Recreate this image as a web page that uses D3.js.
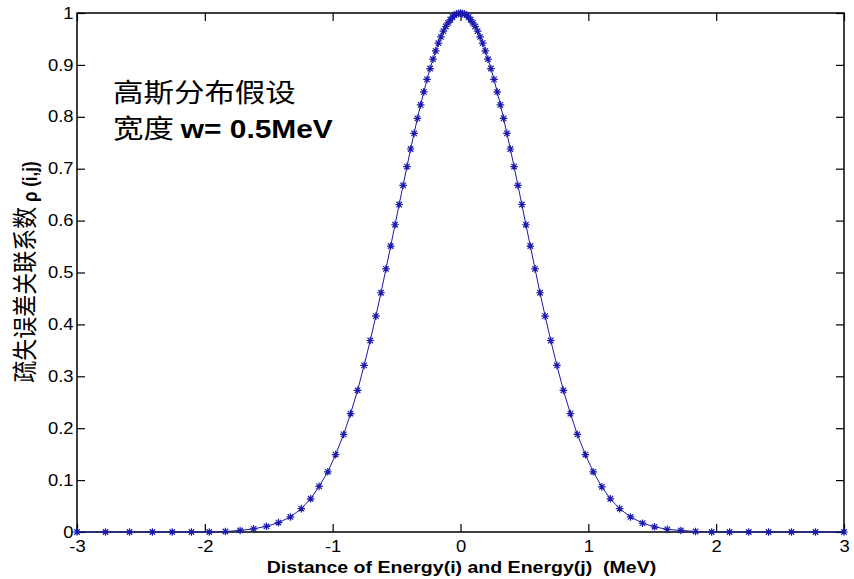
<!DOCTYPE html>
<html>
<head>
<meta charset="utf-8">
<script src="https://cdn.jsdelivr.net/npm/d3@7"></script>
<style>
  html, body { margin: 0; padding: 0; background: #ffffff; }
  svg { display: block; }
</style>
</head>
<body>
<svg id="chart" width="854" height="579"></svg>
<script>
// Tick values on both axes
const tickX = [-3, -2, -1, 0, 1, 2, 3];
const tickY = [0, 0.1, 0.2, 0.3, 0.4, 0.5, 0.6, 0.7, 0.8, 0.9, 1];
const tickYLabels = ["0", "0.1", "0.2", "0.3", "0.4", "0.5", "0.6", "0.7", "0.8", "0.9", "1"];

// Energy distance (MeV)
const distance = [
  -3.000, -2.777, -2.589, -2.410, -2.255, -2.105, -1.965, -1.839, -1.724, -1.618,
  -1.518, -1.424, -1.330, -1.245, -1.172, -1.106, -1.038, -0.977, -0.914, -0.860,
  -0.805, -0.754, -0.706, -0.662, -0.622, -0.583, -0.546, -0.512, -0.480, -0.449,
  -0.419, -0.390, -0.363, -0.337, -0.312, -0.287, -0.262, -0.238, -0.215, -0.194,
  -0.173, -0.153, -0.134, -0.115, -0.097, -0.080, -0.063, -0.047, -0.031, -0.015,
  0.000,
  0.015, 0.031, 0.047, 0.063, 0.080, 0.097, 0.115, 0.134, 0.153, 0.173,
  0.194, 0.215, 0.238, 0.262, 0.287, 0.312, 0.337, 0.363, 0.390, 0.419,
  0.449, 0.480, 0.512, 0.546, 0.583, 0.622, 0.662, 0.706, 0.754, 0.805,
  0.860, 0.914, 0.977, 1.038, 1.106, 1.172, 1.245, 1.330, 1.424, 1.518,
  1.618, 1.724, 1.839, 1.965, 2.105, 2.255, 2.410, 2.589, 2.777, 3.000
];

// Correlation coefficient rho(i,j) at each distance
const correlation = [
  0.000, 0.000, 0.000, 0.000, 0.000, 0.000, 0.000, 0.001, 0.003, 0.006,
  0.011, 0.018, 0.029, 0.045, 0.064, 0.088, 0.116, 0.149, 0.188, 0.228,
  0.273, 0.321, 0.369, 0.416, 0.461, 0.507, 0.551, 0.592, 0.631, 0.668,
  0.704, 0.738, 0.768, 0.797, 0.823, 0.848, 0.872, 0.893, 0.911, 0.927,
  0.942, 0.954, 0.965, 0.974, 0.981, 0.987, 0.992, 0.996, 0.998, 0.999,
  1.000,
  0.999, 0.998, 0.996, 0.992, 0.987, 0.981, 0.974, 0.965, 0.954, 0.942,
  0.927, 0.911, 0.893, 0.872, 0.848, 0.823, 0.797, 0.768, 0.738, 0.704,
  0.668, 0.631, 0.592, 0.551, 0.507, 0.461, 0.416, 0.369, 0.321, 0.273,
  0.228, 0.188, 0.149, 0.116, 0.087, 0.064, 0.045, 0.029, 0.017, 0.010,
  0.005, 0.003, 0.001, 0.000, 0.000, 0.000, 0.000, 0.000, 0.000, 0.000
];

const xLabel = "Distance of Energy(i) and Energy(j)  (MeV)";
const yLabelCn = "疏失误差关联系数";
const yLabelSym = " ρ (i,j)";
const noteLine1 = "高斯分布假设";
const noteLine2Cn = "宽度 ";
const noteLine2Val = "w= 0.5MeV";

const svg = d3.select("#chart");
const plot = { left: 77, right: 844, top: 13, bottom: 532 };
const stretch = 1.15;
const latin = "'Liberation Sans', Arial, Helvetica, sans-serif";
const cjk = "'Noto Sans CJK SC', 'Noto Sans CJK TC', sans-serif";
const ink = "#1a1aae";

const x = d3.scaleLinear().domain([-3, 3]).range([plot.left, plot.right]);
const y = d3.scaleLinear().domain([0, 1]).range([plot.bottom, plot.top]);

svg.append("rect").attr("width", 854).attr("height", 579).attr("fill", "#fff");

// Axes with inward ticks on all four sides
const tickLen = 8;
const gB = svg.append("g").attr("transform", `translate(0,${plot.bottom})`)
  .call(d3.axisBottom(x).tickValues(tickX).tickFormat(d => String(d))
    .tickSizeInner(-tickLen).tickSizeOuter(0).tickPadding(9));
const gT = svg.append("g").attr("transform", `translate(0,${plot.top})`)
  .call(d3.axisTop(x).tickValues(tickX).tickFormat("")
    .tickSizeInner(-tickLen).tickSizeOuter(0));
const gL = svg.append("g").attr("transform", `translate(${plot.left},0)`)
  .call(d3.axisLeft(y).tickValues(tickY).tickFormat((d, i) => tickYLabels[i])
    .tickSizeInner(-tickLen).tickSizeOuter(0).tickPadding(3));
const gR = svg.append("g").attr("transform", `translate(${plot.right},0)`)
  .call(d3.axisRight(y).tickValues(tickY).tickFormat("")
    .tickSizeInner(-tickLen).tickSizeOuter(0));

[gB, gT, gL, gR].forEach(g => {
  g.select(".domain").remove();
  g.selectAll(".tick line").attr("stroke", "#000").attr("stroke-width", 1.2);
  g.selectAll("text")
    .attr("fill", "#000")
    .style("font-family", latin)
    .style("font-size", "16px");
});
gB.selectAll(".tick text").attr("transform", `scale(${stretch},1)`);
gL.selectAll(".tick text").attr("transform", `scale(${stretch},1)`);

// Plot frame
svg.append("rect")
  .attr("x", plot.left).attr("y", plot.top)
  .attr("width", plot.right - plot.left).attr("height", plot.bottom - plot.top)
  .attr("fill", "none").attr("stroke", "#000").attr("stroke-width", 1.5);

// Correlation curve
const pts = distance.map((d, i) => [d, correlation[i]]);
svg.append("path")
  .datum(pts)
  .attr("fill", "none")
  .attr("stroke", ink)
  .attr("stroke-width", 1)
  .attr("d", d3.line().x(d => x(d[0])).y(d => y(d[1])));

// Asterisk markers
const r = 3.8, dd = r * 0.72;
const star = `M${-r},0H${r}M0,${-r}V${r}M${-dd},${-dd}L${dd},${dd}M${-dd},${dd}L${dd},${-dd}`;
svg.append("g").selectAll("path")
  .data(pts)
  .join("path")
  .attr("transform", d => `translate(${x(d[0])},${y(d[1])})`)
  .attr("d", star)
  .attr("fill", "none")
  .attr("stroke", ink)
  .attr("stroke-width", 1.2);

// X axis title
svg.append("text")
  .attr("transform", `translate(${(plot.left + plot.right) / 2 + 1},573) scale(${stretch},1)`)
  .attr("text-anchor", "middle")
  .style("white-space", "pre")
  .attr("xml:space", "preserve")
  .style("font-family", latin)
  .style("font-size", "17px")
  .style("font-weight", "bold")
  .attr("fill", "#000")
  .text(xLabel);

// Y axis title
const yt = svg.append("text")
  .attr("transform", `translate(34,272) scale(${stretch},1) rotate(-90)`)
  .attr("text-anchor", "middle")
  .attr("fill", "#000");
yt.append("tspan").style("font-family", cjk).style("font-size", "22px").text(yLabelCn);
yt.append("tspan").attr("dy", 3).style("font-family", latin).style("font-size", "17px")
  .style("font-weight", "bold").style("white-space", "pre").text(yLabelSym);

// Annotation
svg.append("text")
  .attr("transform", `translate(113,102) scale(${stretch},1)`)
  .style("font-family", cjk).style("font-size", "26.5px").attr("fill", "#000")
  .text(noteLine1);
const n2 = svg.append("text")
  .attr("transform", `translate(113,138) scale(${stretch},1)`)
  .style("white-space", "pre")
  .attr("fill", "#000");
n2.append("tspan").style("font-family", cjk).style("font-size", "26.5px").text(noteLine2Cn);
n2.append("tspan").style("font-family", latin).style("font-size", "26px")
  .style("font-weight", "bold").text(noteLine2Val);
</script>
</body>
</html>
